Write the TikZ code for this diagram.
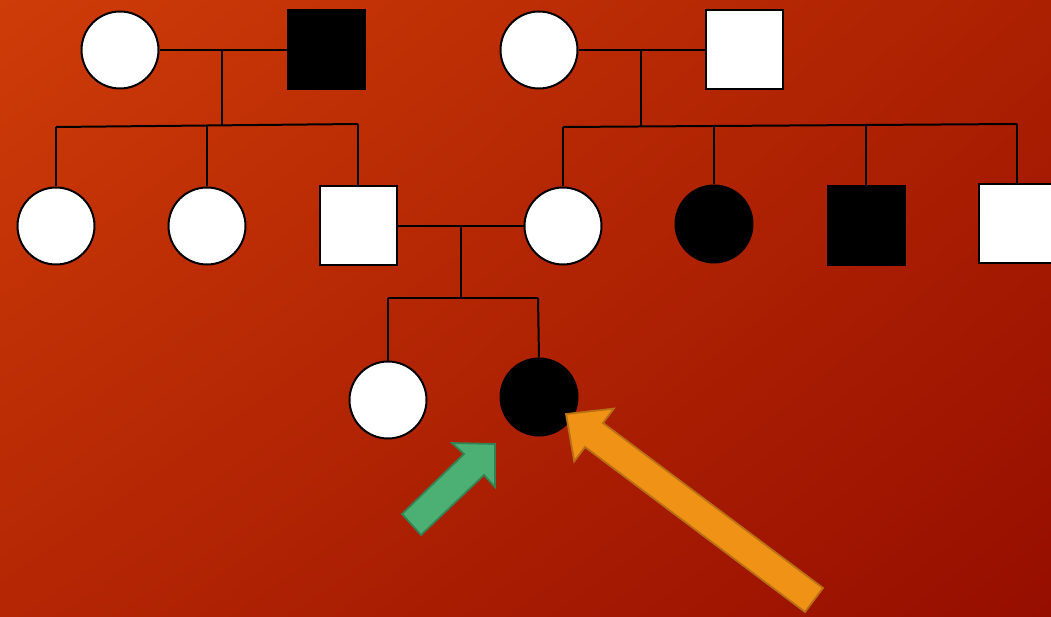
\documentclass[tikz,border=0pt]{standalone}
\usetikzlibrary{shadings}
\begin{document}
\begin{tikzpicture}[x=1pt,y=-1pt]
\definecolor{bgTL}{RGB}{206,60,8}
\definecolor{bgTR}{RGB}{172,32,2}
\definecolor{bgBL}{RGB}{180,38,4}
\definecolor{bgBR}{RGB}{150,14,0}
\definecolor{grnF}{RGB}{76,176,116}
\definecolor{grnD}{RGB}{52,130,84}
\definecolor{orgF}{RGB}{240,146,22}
\definecolor{orgD}{RGB}{184,112,18}
\tikzset{
  fem/.style={circle, draw=black, line width=2pt, minimum size=77pt, inner sep=0pt, fill=white},
  mal/.style={rectangle, draw=black, line width=2pt, minimum width=77pt, minimum height=79pt, inner sep=0pt, fill=white},
  aff/.style={fill=black},
  link/.style={line width=2pt, draw=black},
  blockarrow/.style={line width=1.8pt, line join=miter},
}
\useasboundingbox (0,0) rectangle (1051,617);
\clip (0,0) rectangle (1051,617);
\shade[upper left=bgTL, upper right=bgTR, lower left=bgBL, lower right=bgBR] (0,0) rectangle (1051,617);

% generation I
\node[fem] (f1) at (120,50) {};
\node[mal, aff] (m1) at (326,50) {};
\node[fem] (f2) at (539,50) {};
\node[mal] (m2) at (744.5,50) {};

% generation II
\node[fem] (c1) at (56,226) {};
\node[fem] (c2) at (207,226) {};
\node[mal] (c3) at (358,226) {};
\node[fem] (d1) at (563,226) {};
\node[fem, aff] (d2) at (714,224) {};
\node[mal, aff] (d3) at (866,225.5) {};
\node[mal] (d4) at (1017,224) {};

% generation III
\node[fem] (g1) at (388,400) {};
\node[fem, aff] (g2) at (539,397) {};

% junction coordinates
\coordinate (j1) at (222,50);
\coordinate (s1) at (222,125.5);
\coordinate (s1a) at (56,127);
\coordinate (s1b) at (207,125.5);
\coordinate (s1c) at (358,124);
\coordinate (j2) at (641,50);
\coordinate (s2) at (641,126);
\coordinate (s2a) at (563,127);
\coordinate (s2b) at (714,126);
\coordinate (s2c) at (866,125);
\coordinate (s2d) at (1017,124);
\coordinate (j3) at (461,226);
\coordinate (s3) at (461,298);
\coordinate (s3a) at (388,298);
\coordinate (s3b) at (538,298);

% connectors
\draw[link] (f1) -- (m1);
\draw[link] (j1) -- (s1);
\draw[link] (s1a) -- (s1c);
\draw[link] (s1a) -- (c1.north);
\draw[link] (s1b) -- (c2.north);
\draw[link] (s1c) -- (c3.north);

\draw[link] (f2) -- (m2);
\draw[link] (j2) -- (s2);
\draw[link] (s2a) -- (s2d);
\draw[link] (s2a) -- (d1.north);
\draw[link] (s2b) -- (d2.north);
\draw[link] (s2c) -- (d3.north);
\draw[link] (s2d) -- (d4.north);

\draw[link] (c3) -- (d1);
\draw[link] (j3) -- (s3);
\draw[link] (s3a) -- (s3b);
\draw[link] (s3a) -- (g1.north);
\draw[link] (s3b) -- (g2.north);

% pointer arrows
\filldraw[blockarrow, fill=grnF, draw=grnD]
  (402,514) -- (464,454) -- (452,443) -- (495,444) -- (495,487) -- (484,475) -- (421,535) -- cycle;
\filldraw[blockarrow, fill=orgF, draw=orgD]
  (566,414) -- (613.8,408.6) -- (603,423) -- (823,588) -- (805,612) -- (585,447) -- (574.2,461.4) -- cycle;
\end{tikzpicture}
\end{document}
